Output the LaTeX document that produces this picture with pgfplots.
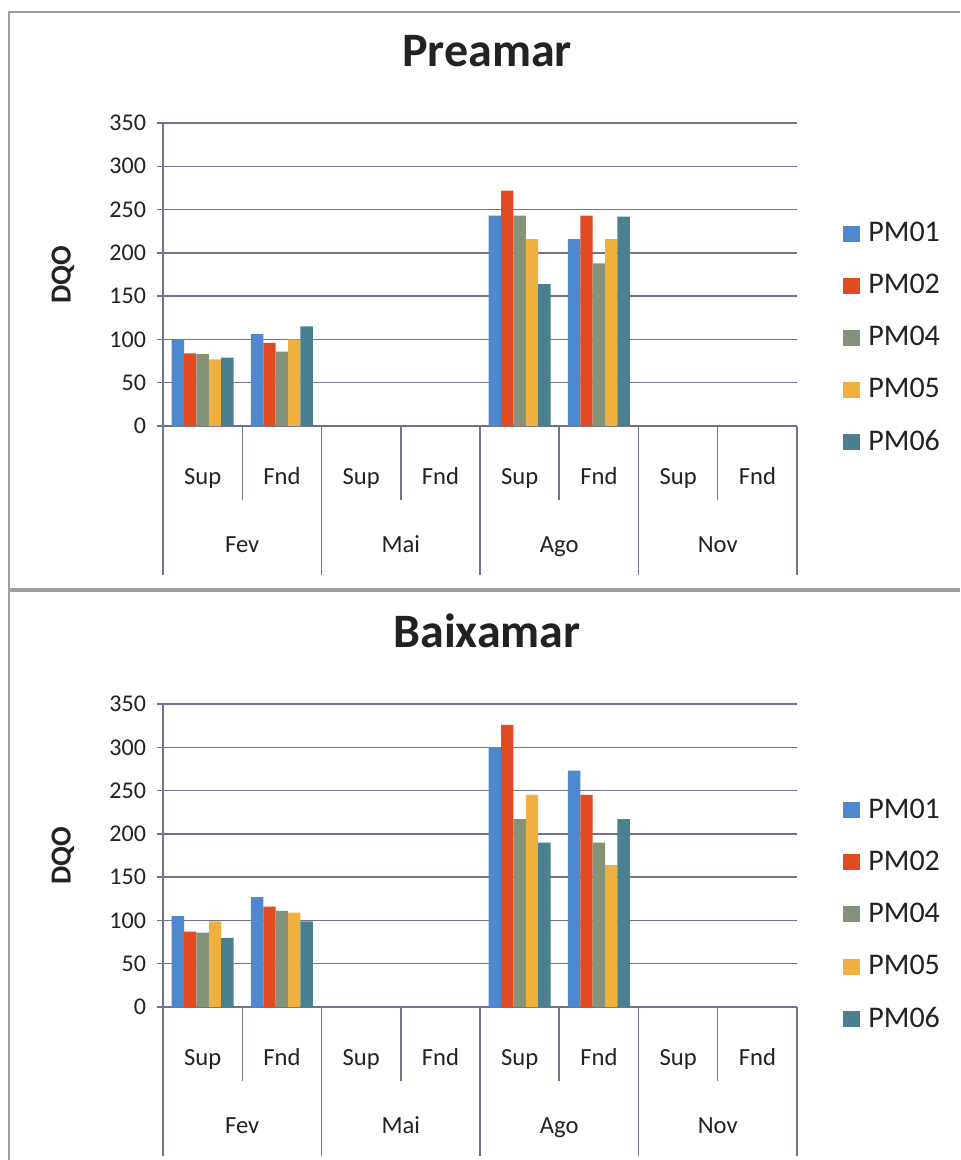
\documentclass[border=0pt]{standalone}
\usepackage{pgfplots}
\pgfplotsset{compat=1.18}
\usepackage{fontspec}
\setmainfont{Carlito}
\definecolor{cA}{HTML}{5088D0}
\definecolor{cB}{HTML}{E24A22}
\definecolor{cC}{HTML}{84927A}
\definecolor{cD}{HTML}{EFB040}
\definecolor{cE}{HTML}{4A8090}
\definecolor{gridc}{HTML}{70748A}
\definecolor{txt}{HTML}{222222}
\tikzset{mydecor/.style={gridc, line width=0.75pt}}
\pgfplotsset{
  mychart/.style={
    width=317pt, height=151.5pt, scale only axis,
    anchor=south west, clip=false,
    ybar=0pt, bar width=6.2pt,
    ymin=0, ymax=350, ytick={0,50,...,350},
    xmin=-0.5, xmax=7.5, xtick={0,...,7},
    xticklabels={Sup,Fnd,Sup,Fnd,Sup,Fnd,Sup,Fnd},
    enlargelimits=false,
    axis x line=bottom, axis y line=left,
    axis line style={-, gridc, line width=0.75pt},
    ymajorgrids, grid style={gridc, line width=0.75pt},
    tick align=outside, major tick length=3pt,
    xtick style={draw=none},
    ytick style={gridc, line width=0.75pt},
    /pgf/number format/assume math mode=true,
    yticklabel style={font=\fontsize{12}{14}\selectfont, text=txt, xshift=-2pt},
    xticklabel style={font=\fontsize{12.3}{14}\selectfont, text=txt, anchor=base, yshift=-26pt},
    ylabel={\textbf{DQO}},
    ylabel style={font=\fontsize{14.5}{16}\selectfont, text=txt, at={(axis description cs:-0.158,0.5)}, anchor=center},
    title style={font=\bfseries\fontsize{24}{28}\selectfont, text=txt, at={(axis description cs:0.5,1)}, anchor=base, yshift=22.5pt, xshift=3.5pt},
    legend style={draw=none, fill=none, font=\fontsize{15}{17}\selectfont, text=txt, row sep=10.8pt, legend cell align=left,
      /tikz/every odd column/.append style={column sep=2pt}},
    legend image code/.code={\fill[#1, draw=none] (0pt,-4pt) rectangle (8.5pt,4pt);},
  },
}
\newcommand{\mydecorlines}{%
  \pgfplotsinvokeforeach{-0.5,1.5,3.5,5.5,7.5}{\draw[mydecor] (axis cs:##1,0) -- ([yshift=-74.5pt]axis cs:##1,0);}%
  \pgfplotsinvokeforeach{0.5,2.5,4.5,6.5}{\draw[mydecor] (axis cs:##1,0) -- ([yshift=-37pt]axis cs:##1,0);}%
  \node[anchor=base, font=\fontsize{12.3}{14}\selectfont, text=txt] at ([yshift=-63pt]axis cs:0.5,0) {Fev};
  \node[anchor=base, font=\fontsize{12.3}{14}\selectfont, text=txt] at ([yshift=-63pt]axis cs:2.5,0) {Mai};
  \node[anchor=base, font=\fontsize{12.3}{14}\selectfont, text=txt] at ([yshift=-63pt]axis cs:4.5,0) {Ago};
  \node[anchor=base, font=\fontsize{12.3}{14}\selectfont, text=txt] at ([yshift=-63pt]axis cs:6.5,0) {Nov};
}
\begin{document}
\begin{tikzpicture}
\useasboundingbox (0,0) rectangle (480pt,-580pt);
\fill[white] (0,0) rectangle (480pt,-580pt);
\draw[gray!75, line width=1pt] (4.5pt,-580pt) -- (4.5pt,-6pt) -- (480pt,-6pt);
\draw[gray!75, line width=1.6pt] (4.5pt,-295pt) -- (480pt,-295pt);

\begin{axis}[mychart, at={(81.5pt,-213pt)}, title={Preamar},
  legend style={at={(axis description cs:1.063,0.70)}, anchor=north west}]
\addplot[fill=cA, draw=none] coordinates {(0,100) (1,106) (4,243) (5,216)};
\addplot[fill=cB, draw=none] coordinates {(0,84) (1,96) (4,272) (5,243)};
\addplot[fill=cC, draw=none] coordinates {(0,83) (1,86) (4,243) (5,188)};
\addplot[fill=cD, draw=none] coordinates {(0,77) (1,100) (4,216) (5,216)};
\addplot[fill=cE, draw=none] coordinates {(0,79) (1,115) (4,164) (5,242)};
\legend{PM01,PM02,PM04,PM05,PM06}
\mydecorlines
\end{axis}

\begin{axis}[mychart, at={(81.5pt,-503.5pt)}, title={Baixamar},
  legend style={at={(axis description cs:1.063,0.714)}, anchor=north west}]
\addplot[fill=cA, draw=none] coordinates {(0,105) (1,127) (4,300) (5,273)};
\addplot[fill=cB, draw=none] coordinates {(0,87) (1,116) (4,326) (5,245)};
\addplot[fill=cC, draw=none] coordinates {(0,86) (1,111) (4,217) (5,190)};
\addplot[fill=cD, draw=none] coordinates {(0,99) (1,109) (4,245) (5,164)};
\addplot[fill=cE, draw=none] coordinates {(0,80) (1,99) (4,190) (5,217)};
\legend{PM01,PM02,PM04,PM05,PM06}
\mydecorlines
\end{axis}
\end{tikzpicture}
\end{document}
